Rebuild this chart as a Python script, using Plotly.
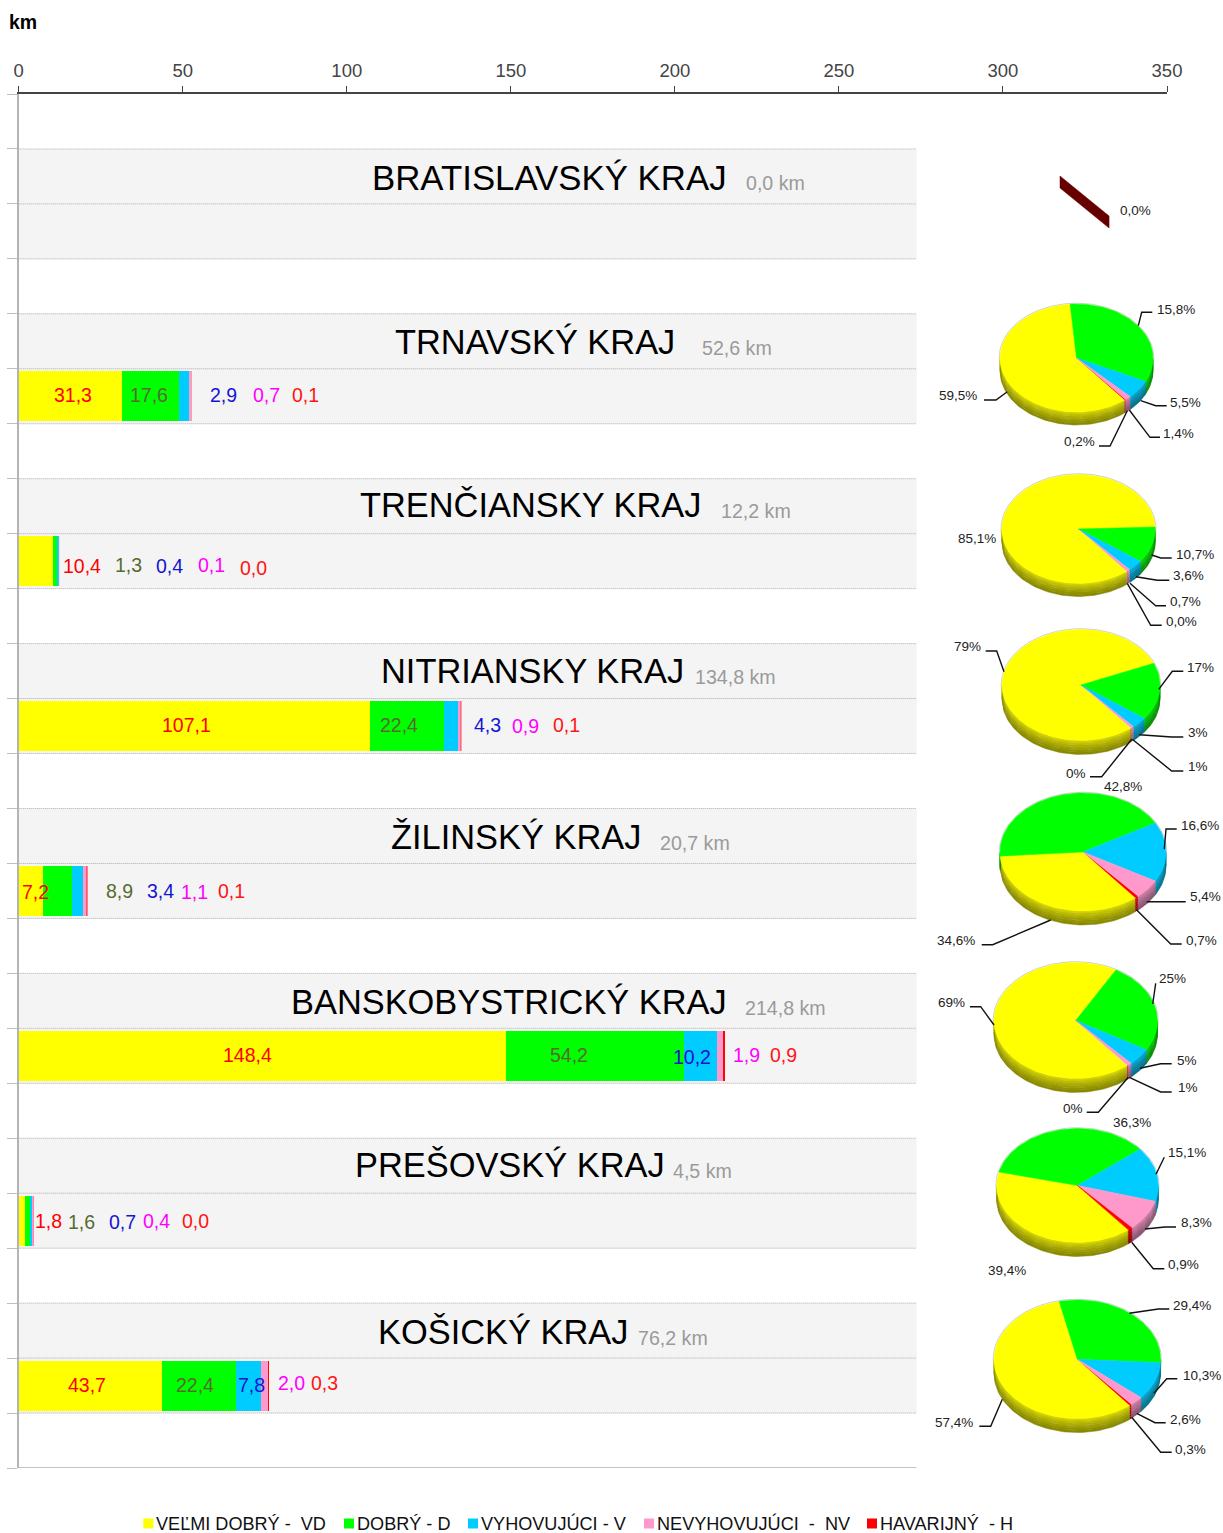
import math
import plotly.graph_objects as go

W, H = 1223, 1533
FONT = "Liberation Sans"

# ---------- data ----------
REGIONS = ["BRATISLAVSKÝ KRAJ", "TRNAVSKÝ KRAJ", "TRENČIANSKY KRAJ", "NITRIANSKY KRAJ",
           "ŽILINSKÝ KRAJ", "BANSKOBYSTRICKÝ KRAJ", "PREŠOVSKÝ KRAJ", "KOŠICKÝ KRAJ"]
TOTAL_KM = [0.0, 52.6, 12.2, 134.8, 20.7, 214.8, 4.5, 76.2]
VD = [0.0, 31.3, 10.4, 107.1, 7.2, 148.4, 1.8, 43.7]
D = [0.0, 17.6, 1.3, 22.4, 8.9, 54.2, 1.6, 22.4]
V = [0.0, 2.9, 0.4, 4.3, 3.4, 10.2, 0.7, 7.8]
NV = [0.0, 0.7, 0.1, 0.9, 1.1, 1.9, 0.4, 2.0]
HV = [0.0, 0.1, 0.0, 0.1, 0.14, 0.3, 0.04, 0.3]
HV_LABELS = ["0,0", "0,1", "0,0", "0,1", "0,1", "0,9", "0,0", "0,3"]
SERIES_NAMES = ["VEĽMI DOBRÝ -  VD", "DOBRÝ - D", "VYHOVUJÚCI - V", "NEVYHOVUJÚCI  -  NV", "HAVARIJNÝ  - H"]
X_TICKS = [0, 50, 100, 150, 200, 250, 300, 350]
PIE_TEXT = [["0,0%"],
            ["15,8%", "5,5%", "1,4%", "0,2%", "59,5%"],
            ["85,1%", "10,7%", "3,6%", "0,7%", "0,0%"],
            ["79%", "17%", "3%", "1%", "0%"],
            ["42,8%", "16,6%", "5,4%", "0,7%", "34,6%"],
            ["25%", "5%", "1%", "0%", "69%"],
            ["36,3%", "15,1%", "8,3%", "0,9%", "39,4%"],
            ["29,4%", "10,3%", "2,6%", "0,3%", "57,4%"]]

# ---------- layout constants (pixels of the picture) ----------
AX_L, AX_R, AX_T, AX_B = 18.7, 1167.0, 94.0, 1468.0
ROWS = 25
BAND_END_KM = 273.7
BAR_ROWS = [2, 5, 8, 11, 14, 17, 20, 23]
COLORS = ["#FFFF00", "#00FF00", "#00CCFF", "#FF99CC", "#FF0000"]
LABEL_COLORS = ["#FF0000", "#566B2E", "#1414D2", "#FF00FF", "#FF1414"]
FIRST_ANGLE = 141.0
# cx, cy, rx, ry, depth
PIE_GEOM = [(1060, 176, 78, 51.5, 12),
            (1076.5, 358, 76.5, 54, 13),
            (1078.5, 529, 76.7, 54.5, 13),
            (1081, 685, 79, 55.5, 14),
            (1083, 852, 83, 59, 14),
            (1075.7, 1020.5, 81.7, 58, 14),
            (1077.5, 1185.5, 80.8, 57, 14),
            (1077.3, 1359.3, 83.3, 59.3, 14)]
TITLE_SIZE = [34.8, 34.4, 34.4, 34.4, 34.4, 34.4, 34.4, 34.4]
TITLE_POS = [(372, 178, 746, 183), (395, 343, 702, 348), (360, 506, 721, 511), (381, 672, 695, 677),
             (391, 838, 660, 843), (291, 1003, 745, 1008), (355, 1166, 673, 1171), (378, 1333, 638, 1338)]
BAR_LABEL_POS = [None,
                 [(72.5, 395), (149, 395), (223, 395), (266, 395), (305, 395)],
                 [(82, 566), (128, 565), (169, 566), (211, 565), (253, 568)],
                 [(186, 725), (399, 725), (487, 725), (525, 726), (566, 725)],
                 [(35, 892), (119, 891), (160, 891), (194, 892), (231, 891)],
                 [(247, 1055), (569, 1055), (692, 1057), (746, 1055), (783, 1055)],
                 [(48, 1221), (81, 1222), (122, 1222), (156, 1221), (195, 1221)],
                 [(87, 1385), (195, 1385), (251, 1385), (291, 1383), (324, 1383)]]
PIE_LABEL_POS = [[(1119.5, 210)],
                 [(1156.7, 309), (1170, 402), (1163, 433.7), (1064, 441.7), (939.3, 395.7)],
                 [(958.3, 538.7), (1175.7, 554), (1172.7, 575.7), (1170, 601.7), (1165.7, 621.3)],
                 [(954.3, 646.7), (1187.3, 667.7), (1188.3, 732.7), (1187.7, 766.7), (1066, 773.3)],
                 [(1104.3, 786.7), (1180.7, 825), (1190, 896.7), (1185.7, 940.7), (936.7, 940.7)],
                 [(1159, 978.3), (1177.3, 1060), (1178.3, 1087.7), (1063.3, 1108.3), (937.7, 1002.7)],
                 [(1113.3, 1122.7), (1168.3, 1152.7), (1180.7, 1222.7), (1167.7, 1264.3), (987.7, 1270.7)],
                 [(1172.7, 1305), (1183.3, 1375), (1170, 1419), (1175, 1449), (935, 1422.7)]]
LEADERS = [
    [(1138.3, 325.7), (1141.7, 312.3), (1152.3, 312.3)], [(1140.7, 400.7), (1155.7, 405.7), (1166.7, 405.7)],
    [(1129.3, 410), (1150, 437.3), (1160, 437.3)], [(1127.3, 410.7), (1110, 446), (1099, 446)],
    [(1007.3, 391.7), (996, 400), (984, 400)],
    [(1151.7, 555), (1160.7, 558), (1171.7, 558)], [(1136, 576.7), (1157.3, 580.3), (1169.3, 580.3)],
    [(1130, 583.3), (1155.7, 605.7), (1166, 605.7)], [(1127.3, 583.3), (1150.7, 625.3), (1161.7, 625.3)],
    [(1004, 671.7), (996.7, 651), (985.7, 651)], [(1158.7, 689.3), (1172.3, 671.3), (1183.3, 671.3)],
    [(1139.3, 734.7), (1171.7, 737), (1183.3, 737)], [(1132.3, 739.3), (1171.7, 771), (1183.3, 771)],
    [(1131.7, 739.3), (1101.7, 776.7), (1090, 776.7)],
    [(1164.3, 849.3), (1166, 829), (1176.7, 829)], [(1146.7, 901.7), (1185.7, 901.7)],
    [(1136.7, 910), (1170.7, 944), (1181.7, 944)], [(1050.7, 920), (992.7, 944.7), (981.7, 944.7)],
    [(1152.7, 1004), (1155.7, 983.3)], [(1140, 1068.3), (1160.7, 1063.7), (1171.7, 1063.7)],
    [(1129.3, 1077.3), (1160.7, 1092), (1171.7, 1092)], [(1128.3, 1077.3), (1098.3, 1112.3), (1086.7, 1112.3)],
    [(994, 1025), (980.7, 1006.7), (970, 1006.7)],
    [(1156, 1174.3), (1164.3, 1157.3)], [(1145, 1229), (1165, 1227), (1176, 1227)],
    [(1131.7, 1242.3), (1153.3, 1268.7), (1164.3, 1268.7)],
    [(1129.3, 1313.3), (1158.3, 1309), (1169.3, 1309)], [(1154, 1393.3), (1166.7, 1378.7), (1177.3, 1378.7)],
    [(1136.7, 1413.3), (1155, 1422.7), (1165.7, 1422.7)], [(1131.7, 1417.3), (1160.7, 1452.3), (1171.7, 1452.3)],
    [(1002.3, 1399.3), (990.7, 1426.3), (979.3, 1426.3)],
]
LEGEND_POS = [(143.3, 155), (344, 355.5), (468, 479.5), (644, 655.5), (867, 878.5)]
LEGEND_Y = 1523.5
SIDE_BANDS = [0.82, 0.75, 0.69, 0.63, 0.58, 0.54]
PX_PER_KM = (AX_R - AX_L) / 350


def shade(hex_color, f):
    r, g, b = (int(hex_color[i:i + 2], 16) for i in (1, 3, 5))
    return f"rgb({int(r * f)},{int(g * f)},{int(b * f)})"


def arc(cx, cy, rx, ry, start, end):
    n = max(2, int(abs(end - start) / 2) + 2)
    xs, ys = [], []
    for i in range(n):
        a = math.radians(start + (end - start) * i / (n - 1))
        xs.append(cx + rx * math.sin(a))
        ys.append(cy - ry * math.cos(a))
    return xs, ys


def add_poly(fig, xs, ys, c, lw=0.5):
    fig.add_trace(go.Scatter(x=xs, y=ys, mode="lines", fill="toself", fillcolor=c,
                             line=dict(color=c, width=lw), showlegend=False,
                             hoverinfo="skip", xaxis="x2", yaxis="y2"))


def front_parts(start, end):
    """Parts of a clockwise slice that lie on the visible front of the pie (90..270 degrees)."""
    parts = []
    for shift in (-360, 0, 360):
        lo, hi = max(start + shift, 90), min(end + shift, 270)
        if hi > lo:
            parts.append((lo, hi))
    return parts


fig = go.Figure()

# stacked bars (slivers thinner than a pixel are blended by their pixel coverage)
all_series = [VD, D, V, NV, HV]
bar_y = [r + 0.5 for r in BAR_ROWS]
for name, vals, col in zip(SERIES_NAMES, all_series, COLORS):
    fig.add_trace(go.Bar(y=bar_y, x=vals, orientation="h", width=50 / 55, name=name,
                         marker=dict(color=col, line=dict(width=0),
                                     opacity=[min(1.0, v * PX_PER_KM) for v in vals]),
                         showlegend=False, hoverinfo="skip", xaxis="x", yaxis="y"))

# pies drawn from the same values
for p, (cx, cy, rx, ry, depth) in enumerate(PIE_GEOM):
    total = sum(s[p] for s in all_series)
    if total == 0:
        a = math.radians(FIRST_ANGLE)
        ex, ey = cx + rx * math.sin(a), cy - ry * math.cos(a)
        add_poly(fig, [cx, ex, ex, cx, cx], [cy, ey, ey + depth, cy + depth, cy], "#660000")
        continue
    ol_x, ol_y = arc(cx, cy, rx + 0.8, ry + 0.8, 0, 360)
    fig.add_trace(go.Scatter(x=ol_x, y=ol_y, mode="lines", line=dict(color="#cfcfcf", width=1),
                             showlegend=False, hoverinfo="skip", xaxis="x2", yaxis="y2"))
    ang = FIRST_ANGLE
    for s, col in zip(all_series, COLORS):
        sweep = 360.0 * s[p] / total
        if sweep > 0:
            for lo, hi in front_parts(ang, ang + sweep):
                n = len(SIDE_BANDS)
                for b, f in enumerate(SIDE_BANDS):
                    x1, y1 = arc(cx, cy + depth * b / n, rx, ry, lo, hi)
                    x2, y2 = arc(cx, cy + depth * (b + 1) / n, rx, ry, lo, hi)
                    add_poly(fig, x1 + x2[::-1] + x1[:1], y1 + y2[::-1] + y1[:1], shade(col, f),
                             lw=0 if sweep < 3 else 0.5)
        ang += sweep
    ang = FIRST_ANGLE
    for s, col in zip(all_series, COLORS):
        sweep = 360.0 * s[p] / total
        if sweep > 0:
            xs, ys = arc(cx, cy, rx, ry, ang, ang + sweep)
            add_poly(fig, [cx] + xs + [cx], [cy] + ys + [cy], col, lw=0 if sweep < 3 else 0.5)
        ang += sweep

# ---------- shapes ----------
shapes = []
for r in range(1, ROWS, 3):
    shapes.append(dict(type="rect", xref="x", yref="y", x0=0, x1=BAND_END_KM, y0=r, y1=r + 2,
                       fillcolor="#F4F4F4", line=dict(width=0), layer="below"))
for r in range(1, ROWS):
    shapes.append(dict(type="line", xref="x", yref="y", x0=0, x1=BAND_END_KM, y0=r, y1=r,
                       line=dict(color="#ABABAB", width=1, dash="1px,1px"), layer="below"))
shapes.append(dict(type="line", xref="x", yref="y", x0=0, x1=BAND_END_KM, y0=ROWS, y1=ROWS,
                   line=dict(color="#C4C4C4", width=2), layer="below"))
for pts in LEADERS:
    path = "M " + " L ".join(f"{x},{y}" for x, y in pts)
    shapes.append(dict(type="path", xref="x2", yref="y2", path=path,
                       line=dict(color="#111111", width=1.4), layer="above"))
for (sq, _), col in zip(LEGEND_POS, COLORS):
    shapes.append(dict(type="rect", xref="x2", yref="y2", x0=sq, x1=sq + 10, y0=LEGEND_Y - 5, y1=LEGEND_Y + 5,
                       fillcolor=col, line=dict(width=0), layer="above"))

# ---------- text ----------
ann = []


def text(x, y, s, size, color, anchor="left", bold=False):
    ann.append(dict(x=x, y=y, xref="x2", yref="y2", text=f"<b>{s}</b>" if bold else s, showarrow=False,
                    xanchor=anchor, yanchor="middle", borderpad=0,
                    font=dict(family=FONT, size=size, color=color)))


def comma(v):
    return f"{v:.1f}".replace(".", ",")


text(7.5, 22, "km", 19.5, "#000000", bold=True)
for i, (name, km, pos) in enumerate(zip(REGIONS, TOTAL_KM, TITLE_POS)):
    text(pos[0] - 1.5, pos[1] - 1, name, TITLE_SIZE[i], "#000000")
    text(pos[2] - 1, pos[3], f"{comma(km)} km", 19.6, "#9A9A9A")
    if BAR_LABEL_POS[i]:
        labels = [comma(s[i]) for s in all_series[:4]] + [HV_LABELS[i]]
        for lab, col, (x, y) in zip(labels, LABEL_COLORS, BAR_LABEL_POS[i]):
            text(x, y - 0.5, lab, 19.5, col, anchor="center")
    for s, (x, y) in zip(PIE_TEXT[i], PIE_LABEL_POS[i]):
        text(x - 1, y, s, 13.5, "#222222")
for name, (_, x) in zip(SERIES_NAMES, LEGEND_POS):
    text(x, LEGEND_Y, name, 18.1, "#111111")

fig.update_layout(
    width=W, height=H, margin=dict(l=0, r=0, t=0, b=0, pad=0, autoexpand=False),
    paper_bgcolor="white", plot_bgcolor="rgba(0,0,0,0)",
    barmode="stack", bargap=0, showlegend=False, font=dict(family=FONT),
    shapes=shapes, annotations=ann,
    xaxis=dict(domain=[AX_L / W, AX_R / W], range=[0, 350], side="top", anchor="y", tickvals=X_TICKS,
               ticks="outside", ticklen=6, tickwidth=1, tickcolor="#444444", showline=True,
               linecolor="#444444", linewidth=1.5, showgrid=False, zeroline=False,
               tickfont=dict(family=FONT, size=18.5, color="#444444"), ticklabelstandoff=2),
    yaxis=dict(domain=[1 - AX_B / H, 1 - AX_T / H], range=[ROWS, 0], anchor="x", tickvals=list(range(ROWS + 1)),
               ticks="outside", ticklen=10, tickwidth=1, tickcolor="#BDBDBD", showticklabels=False,
               showline=True, linecolor="#B4B4B4", linewidth=2, showgrid=False, zeroline=False),
    xaxis2=dict(domain=[0, 1], range=[0, W], visible=False, anchor="y2", fixedrange=True),
    yaxis2=dict(domain=[0, 1], range=[H, 0], visible=False, anchor="x2", fixedrange=True),
)

fig.write_html("out.html", config={"displayModeBar": False},
               post_script="document.body.style.margin='0';document.documentElement.style.overflow='hidden';")
